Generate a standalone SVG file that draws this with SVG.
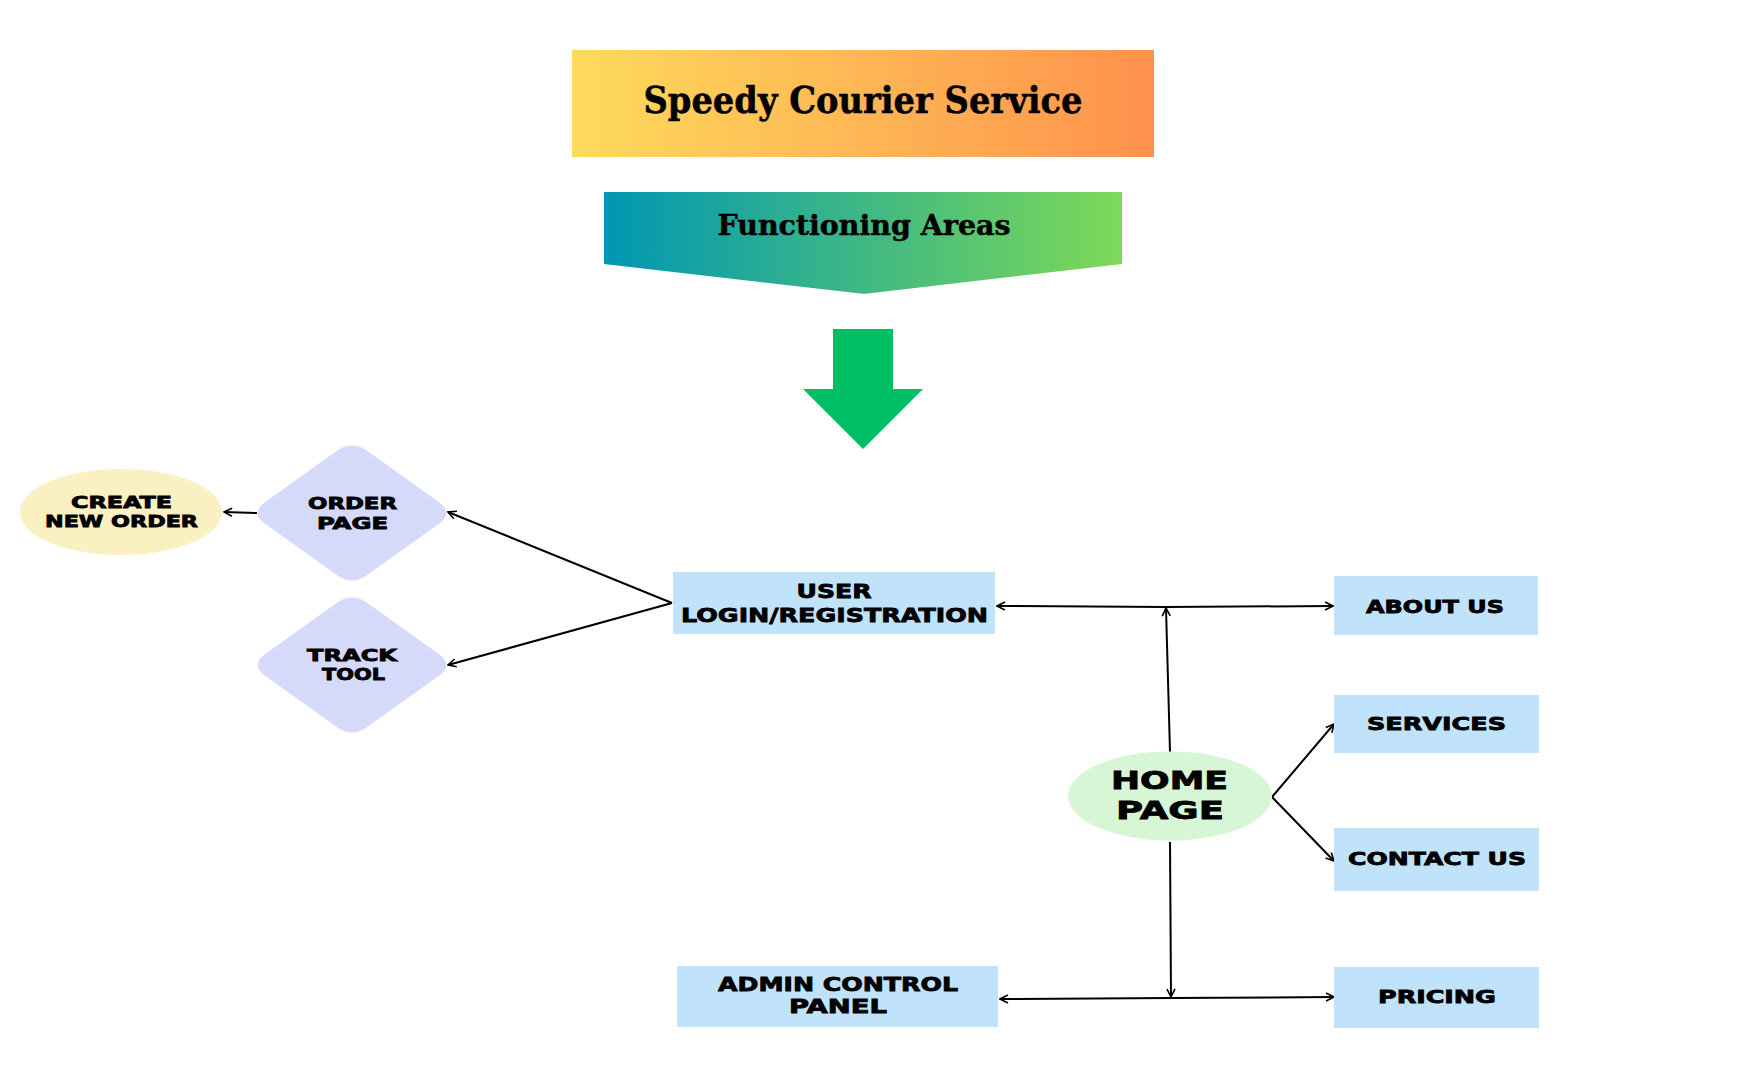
<svg xmlns="http://www.w3.org/2000/svg" width="1739" height="1080" viewBox="0 0 1739 1080">
<defs>
<linearGradient id="gTitle" x1="0" y1="0" x2="1" y2="0">
<stop offset="0" stop-color="#FDDB5C"/>
<stop offset="1" stop-color="#FF914D"/>
</linearGradient>
<linearGradient id="gFunc" x1="0" y1="0" x2="1" y2="0">
<stop offset="0" stop-color="#0097B2"/>
<stop offset="1" stop-color="#7ED957"/>
</linearGradient>
<path id="diamond" d="M-15.3,-62.05 Q0,-73 15.3,-62.05 L86.7,-10.95 Q102,0 86.7,10.95 L15.3,62.05 Q0,73 -15.3,62.05 L-86.7,10.95 Q-102,0 -86.7,-10.95 Z"/>
<marker id="arr" viewBox="0 0 10 10" refX="9" refY="5" markerWidth="10" markerHeight="10" markerUnits="userSpaceOnUse" orient="auto">
<path d="M1,1 L9,5 L1,9" fill="none" stroke="#000" stroke-width="1.6" stroke-linejoin="miter"/>
</marker>
<style>
.lbl{font-family:"DejaVu Sans","Liberation Sans",sans-serif;font-weight:bold;fill:#000;stroke:#000;stroke-width:0.8;text-anchor:middle}
.hd{font-family:"DejaVu Serif","Liberation Serif",serif;font-weight:bold;fill:#000;stroke:#000;stroke-width:0.5;text-anchor:middle}
.box{fill:#C0E3FB}
.dia{fill:#D5DAFA}
.con{fill:none;stroke:#000;stroke-width:2;marker-end:url(#arr)}
</style>
</defs>
<rect width="1739" height="1080" fill="#FFFFFF"/>

<g id="title">
<rect x="572" y="50" width="582" height="107" fill="url(#gTitle)"/>
<text class="hd" x="863" y="113" font-size="37" textLength="439" lengthAdjust="spacingAndGlyphs">Speedy Courier Service</text>
</g>

<g id="functioning-areas">
<path d="M604,192 L1122,192 L1122,264 L872,293 Q864,294.5 856,293 L604,264 Z" fill="url(#gFunc)"/>
<text class="hd" x="864" y="235" font-size="28" textLength="293" lengthAdjust="spacingAndGlyphs">Functioning Areas</text>
</g>

<g id="down-arrow">
<path d="M833,329 L893,329 L893,389 L923,389 L863,449 L803,389 L833,389 Z" fill="#00BF63"/>
</g>

<g id="connectors">
<line class="con" x1="257" y1="513" x2="224" y2="512"/>
<line class="con" x1="672" y1="603" x2="448" y2="512"/>
<line class="con" x1="672" y1="603" x2="448" y2="665"/>
<line class="con" x1="1170" y1="752" x2="1166" y2="608"/>
<line class="con" x1="1166" y1="607" x2="997" y2="606"/>
<line class="con" x1="1166" y1="607" x2="1333" y2="606"/>
<line class="con" x1="1272" y1="797" x2="1334" y2="724"/>
<line class="con" x1="1272" y1="797" x2="1334" y2="861"/>
<line class="con" x1="1170" y1="842" x2="1171" y2="997"/>
<line class="con" x1="1171" y1="998" x2="1000" y2="999"/>
<line class="con" x1="1171" y1="998" x2="1334" y2="997"/>
</g>

<g id="create-new-order">
<ellipse cx="121" cy="512" rx="101" ry="43" fill="#FBF0C2"/>
<text class="lbl" x="121.5" y="508" font-size="16" textLength="101" lengthAdjust="spacingAndGlyphs">CREATE</text>
<text class="lbl" x="121.5" y="527" font-size="16" textLength="153" lengthAdjust="spacingAndGlyphs">NEW ORDER</text>
</g>

<g id="order-page">
<use href="#diamond" x="352" y="513" class="dia"/>
<text class="lbl" x="352.5" y="509" font-size="16" textLength="89" lengthAdjust="spacingAndGlyphs">ORDER</text>
<text class="lbl" x="352.5" y="529" font-size="16" textLength="71" lengthAdjust="spacingAndGlyphs">PAGE</text>
</g>

<g id="track-tool">
<use href="#diamond" x="352" y="665" class="dia"/>
<text class="lbl" x="352" y="661" font-size="16" textLength="90" lengthAdjust="spacingAndGlyphs">TRACK</text>
<text class="lbl" x="353.5" y="680" font-size="16" textLength="63" lengthAdjust="spacingAndGlyphs">TOOL</text>
</g>

<g id="user-login">
<rect class="box" x="673" y="572" width="322" height="62"/>
<text class="lbl" x="834" y="598" font-size="19" textLength="75" lengthAdjust="spacingAndGlyphs">USER</text>
<text class="lbl" x="834.5" y="622" font-size="20" textLength="307" lengthAdjust="spacingAndGlyphs">LOGIN/REGISTRATION</text>
</g>

<g id="admin-panel">
<rect class="box" x="677" y="966" width="321" height="61"/>
<text class="lbl" x="838" y="991" font-size="19" textLength="240" lengthAdjust="spacingAndGlyphs">ADMIN CONTROL</text>
<text class="lbl" x="838" y="1013" font-size="19" textLength="98" lengthAdjust="spacingAndGlyphs">PANEL</text>
</g>

<g id="home-page">
<ellipse cx="1170" cy="796" rx="102" ry="44.5" fill="#D6F6D5"/>
<text class="lbl" x="1169.5" y="789" font-size="25" textLength="117" lengthAdjust="spacingAndGlyphs">HOME</text>
<text class="lbl" x="1170" y="819" font-size="25" textLength="108" lengthAdjust="spacingAndGlyphs">PAGE</text>
</g>

<g id="about-us">
<rect class="box" x="1334" y="576" width="204" height="59"/>
<text class="lbl" x="1435" y="613" font-size="18" textLength="138" lengthAdjust="spacingAndGlyphs">ABOUT US</text>
</g>

<g id="services">
<rect class="box" x="1334" y="695" width="205" height="58"/>
<text class="lbl" x="1436.5" y="730" font-size="18" textLength="139" lengthAdjust="spacingAndGlyphs">SERVICES</text>
</g>

<g id="contact-us">
<rect class="box" x="1334" y="828" width="205" height="63"/>
<text class="lbl" x="1437" y="865" font-size="18" textLength="178" lengthAdjust="spacingAndGlyphs">CONTACT US</text>
</g>

<g id="pricing">
<rect class="box" x="1334" y="967" width="205" height="61"/>
<text class="lbl" x="1437" y="1003" font-size="18" textLength="118" lengthAdjust="spacingAndGlyphs">PRICING</text>
</g>
</svg>
